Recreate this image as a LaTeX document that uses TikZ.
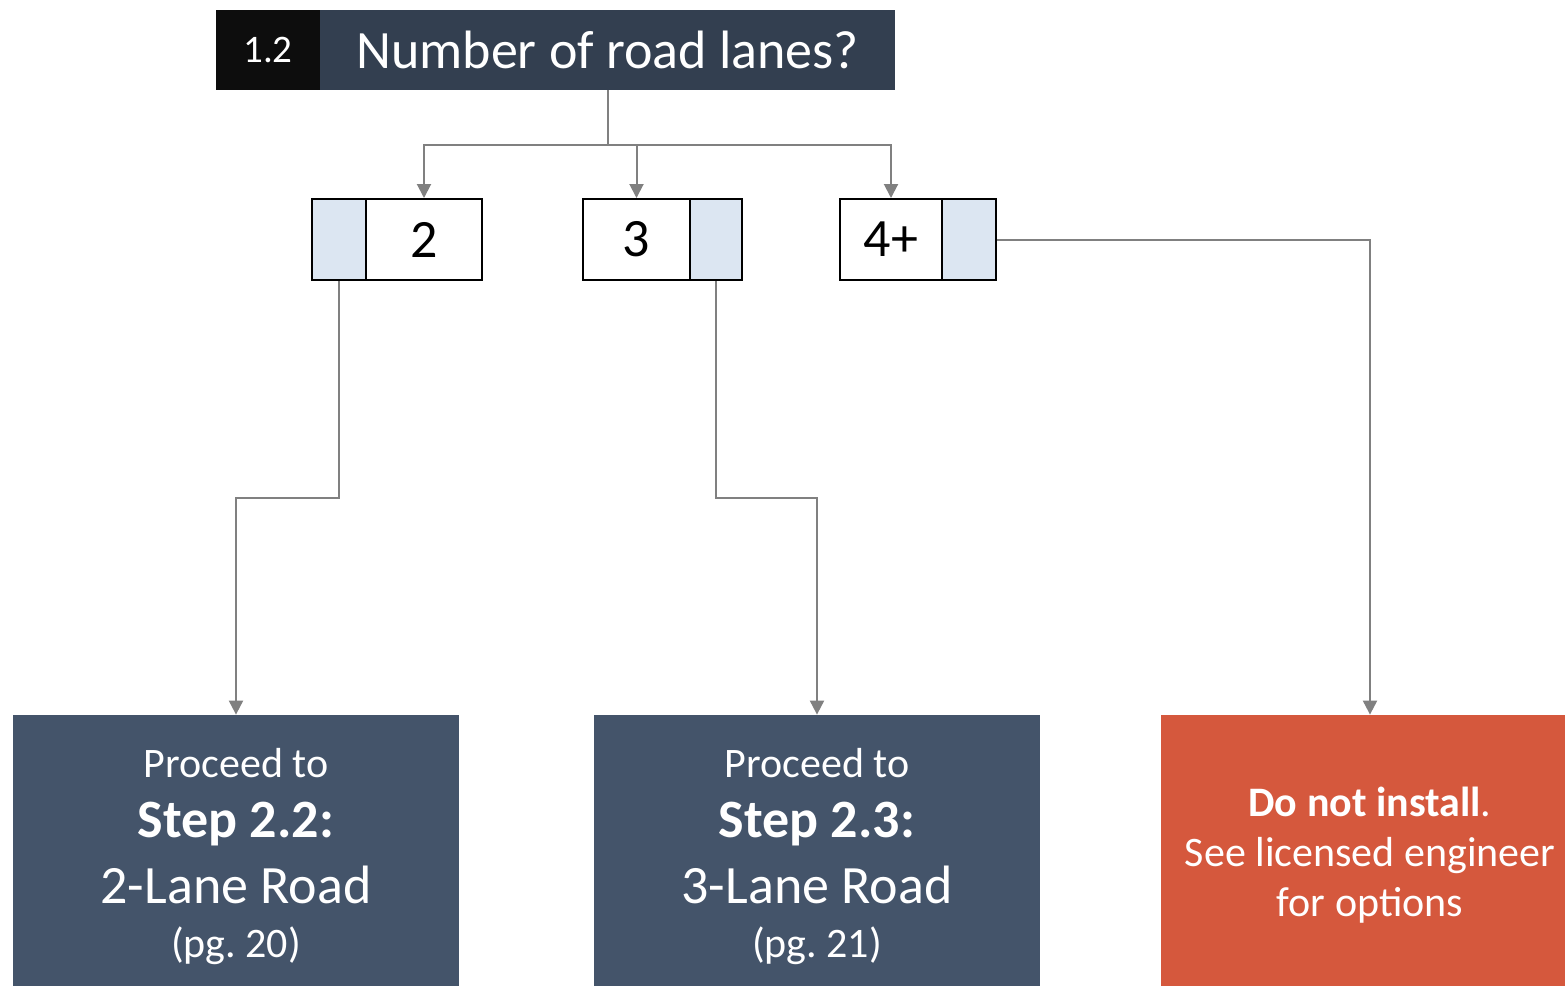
\documentclass[tikz,border=0pt]{standalone}
\usepackage{fontspec}
\setmainfont{Carlito}
\frenchspacing
\usetikzlibrary{arrows.meta}
\definecolor{hblack}{HTML}{0D0D0D}
\definecolor{hslate}{HTML}{333F50}
\definecolor{bslate}{HTML}{44546A}
\definecolor{lblue}{HTML}{DCE6F2}
\definecolor{redbox}{HTML}{D5583D}
\definecolor{conn}{HTML}{808080}
\tikzset{
  hdr/.style={rectangle, inner sep=0pt, minimum height=40pt, text=white},
  numbox/.style={rectangle, draw=black, line width=1pt, fill=white, inner sep=0pt, minimum height=40.5pt, font=\fontsize{27}{32}\selectfont},
  tabbox/.style={rectangle, draw=black, line width=1pt, fill=lblue, inner sep=0pt, minimum height=40.5pt},
  resbox/.style={rectangle, inner sep=0pt, minimum height=140pt, text=white, align=flush center},
  connline/.style={draw=conn, line width=1pt},
  arr/.style={connline, -{Triangle[length=7pt, width=7pt]}},
}
\begin{document}
\begin{tikzpicture}[x=0.5pt, y=-0.5pt]
\useasboundingbox (0,0) rectangle (1565,986);
\clip (0,0) rectangle (1565,986);
\fill[white] (0,0) rectangle (1565,986);
% header
\node[hdr, fill=hblack, minimum width=52pt, font=\fontsize{19.5}{23}\selectfont] (hnum) at (268,50) {1.2};
\node[hdr, fill=hslate, minimum width=287.5pt, font=\fontsize{27}{32}\selectfont] (htitle) at (607.5,50) {Number of road lanes?};
% option boxes
\node[tabbox, minimum width=27pt] (b2l) at (339,239.5) {};
\node[numbox, minimum width=58pt] (b2) at (424,239.5) {2};
\node[numbox, minimum width=53.5pt] (b3) at (636.5,239.5) {3};
\node[tabbox, minimum width=26pt] (b3r) at (716,239.5) {};
\node[numbox, minimum width=51pt] (b4) at (891,239.5) {4+};
\node[tabbox, minimum width=27pt] (b4r) at (969,239.5) {};
% result boxes
\node[resbox, fill=bslate, minimum width=223pt, minimum height=142pt, text width=210pt] (s22) at (236,857) {%
  {\fontsize{21}{25}\selectfont Proceed to\par}%
  {\fontsize{27}{30}\selectfont\bfseries Step 2.2:\par}%
  {\fontsize{27}{33}\selectfont 2-Lane Road\par}%
  {\fontsize{21}{27}\selectfont (pg. 20)\par}};
\node[resbox, fill=bslate, minimum width=223pt, minimum height=142pt, text width=210pt] (s23) at (817,857) {%
  {\fontsize{21}{25}\selectfont Proceed to\par}%
  {\fontsize{27}{30}\selectfont\bfseries Step 2.3:\par}%
  {\fontsize{27}{33}\selectfont 3-Lane Road\par}%
  {\fontsize{21}{27}\selectfont (pg. 21)\par}};
\node[resbox, fill=redbox, minimum width=209pt, text width=200pt, font=\fontsize{21}{25}\selectfont] (red) at (1370,855) {%
  \textbf{Do not install}.\\ See licensed engineer\\ for options};
% connectors
\coordinate (j) at (607.5,145);
\draw[connline] (htitle.south) -- (j);
\draw[arr] (j) -| (b2.north);
\draw[arr] (j) -| (b3.north);
\draw[arr] (j) -| (b4.north);
\draw[arr] (b2l.south) -- ++(0,217) -| (s22.north);
\draw[arr] (b3r.south) -- ++(0,217) -| (s23.north);
\draw[arr] (b4r.east) -| (red.north);
\end{tikzpicture}
\end{document}
